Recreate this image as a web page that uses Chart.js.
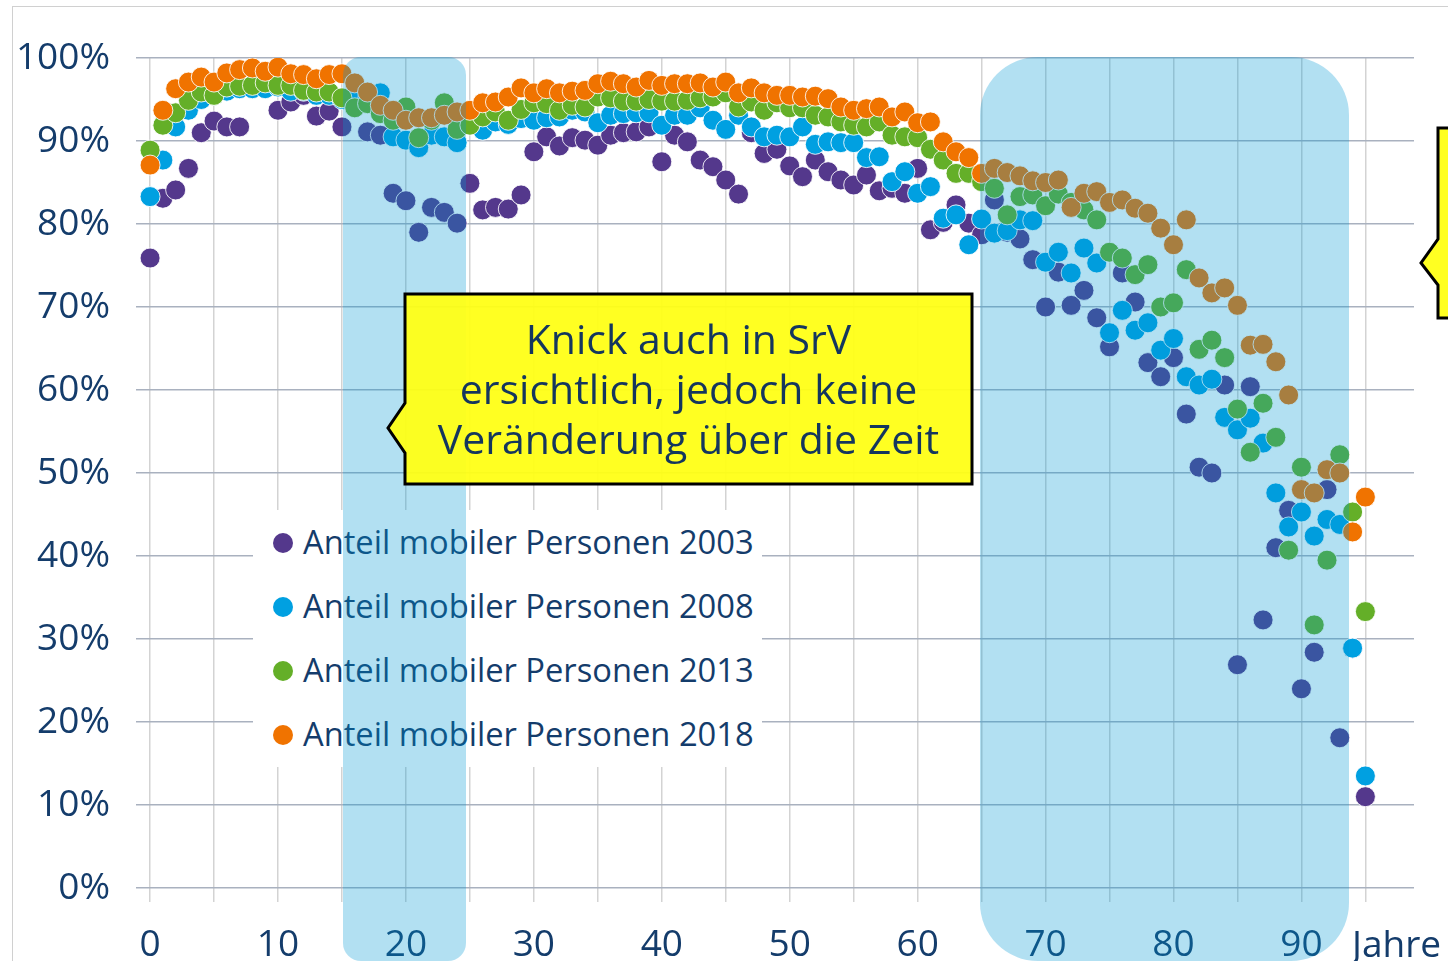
<!DOCTYPE html>
<html>
<head>
<meta charset="utf-8">
<script src="https://cdn.jsdelivr.net/npm/chart.js@4/dist/chart.umd.min.js"></script>
<style>
html,body{margin:0;padding:0;background:#fff;}
#wrap{position:relative;width:1448px;height:961px;overflow:hidden;font-family:'Open Sans',sans-serif;}
#frame{position:absolute;left:12px;top:6px;right:-2px;bottom:-2px;border-left:1px solid #d0d0d0;border-top:1px solid #d0d0d0;}
#chart{position:absolute;left:0;top:0;}
#legend{position:absolute;left:253px;top:510px;width:509px;height:257px;background:#fff;}
.item{position:absolute;left:20px;height:40px;line-height:40px;font-size:32.7px;color:#143c6b;white-space:nowrap;}
.item i{display:inline-block;width:20px;height:20px;border-radius:50%;vertical-align:middle;margin-right:10px;position:relative;top:-2px;}
.band{position:absolute;background:rgba(0,151,211,0.3);}
#shapes{position:absolute;left:0;top:0;}
.note{position:absolute;text-align:center;font-size:41px;line-height:50px;color:#14365e;}
#jahre{position:absolute;left:1352px;top:918px;font-size:37px;line-height:50px;color:#143c6b;}
</style>
</head>
<body>
<div id="wrap">
  <div id="frame"></div>
  <canvas id="chart" width="1448" height="961"></canvas>
  <div id="legend"></div>
  <div id="bands"></div>
  <svg id="shapes" width="1448" height="961">
    <polygon points="405,294 972,294 972,484 405,484 405,453 388,428 405,403" fill="rgba(255,255,20,0.94)" stroke="#000" stroke-width="3"/>
    <polygon points="1438,128 1470,128 1470,318 1438,318 1438,285 1421,263 1438,239" fill="rgba(255,255,20,0.94)" stroke="#000" stroke-width="3"/>
  </svg>
  <div class="note" style="left:405px;top:313px;width:567px;">Knick auch in SrV<br>ersichtlich, jedoch keine<br>Veränderung über die Zeit</div>
  <div id="jahre">Jahre</div>
</div>
<script>
const ages = [0,1,2,3,4,5,6,7,8,9,10,11,12,13,14,15,16,17,18,19,20,21,22,23,24,25,26,27,28,29,
  30,31,32,33,34,35,36,37,38,39,40,41,42,43,44,45,46,47,48,49,50,51,52,53,54,55,56,57,58,59,
  60,61,62,63,64,65,66,67,68,69,70,71,72,73,74,75,76,77,78,79,80,81,82,83,84,85,86,87,88,89,
  90,91,92,93,94,95];

// Anteil mobiler Personen in %, je Altersjahr
const mobil2003 = [75.9,83.1,84.1,86.7,91.0,92.4,91.7,91.7,96.6,96.9,93.7,94.7,95.5,93.0,93.6,91.7,94.0,91.1,90.7,83.7,
  82.8,79.0,82.0,81.4,80.1,84.9,81.7,82.0,81.8,83.5,88.7,90.5,89.4,90.4,90.1,89.5,90.7,91.0,91.1,91.7,
  87.5,90.7,89.9,87.7,86.9,85.3,83.6,91.0,88.5,89.0,87.0,85.7,87.7,86.3,85.3,84.7,85.9,84.0,84.3,83.7,
  86.7,79.3,80.2,82.3,80.1,78.7,82.9,79.0,78.2,75.7,70.0,74.2,70.2,72.0,68.7,65.2,74.1,70.6,63.3,61.6,
  63.9,57.1,50.7,50.0,60.6,26.9,60.4,32.3,41.0,45.5,24.0,28.4,48.0,18.1,28.9,11.0];
const mobil2008 = [83.3,87.7,91.7,93.7,95.0,95.5,96.0,96.3,96.3,96.3,96.5,96.0,96.0,95.5,95.5,95.0,95.3,95.0,95.8,90.5,
  90.1,89.2,90.7,90.5,89.8,92.0,91.3,92.3,92.0,92.7,92.5,92.8,92.9,93.7,93.5,92.2,93.1,93.3,93.4,93.4,
  91.9,93.1,93.1,94.0,92.5,91.4,93.1,91.7,90.5,90.7,90.5,91.7,89.6,89.9,89.8,89.8,88.0,88.1,85.1,86.3,
  83.7,84.5,80.7,81.1,77.5,80.6,78.9,79.2,80.5,80.4,75.4,76.6,74.1,77.1,75.3,66.9,69.6,67.2,68.1,64.8,
  66.2,61.6,60.6,61.3,56.7,55.2,56.6,53.6,47.6,43.5,45.3,42.4,44.4,43.8,28.9,13.5];
const mobil2013 = [88.9,91.9,93.4,94.9,95.9,95.5,96.5,96.6,96.7,97.0,96.7,96.7,96.1,95.9,95.9,95.2,94.0,94.5,93.3,92.5,
  94.1,90.4,92.5,94.6,91.4,91.9,92.9,93.5,92.5,93.8,94.6,94.5,93.7,94.3,94.1,95.3,95.2,94.8,94.8,95.0,
  94.8,94.8,94.9,95.2,95.3,95.8,94.1,94.7,93.7,94.6,94.0,94.0,93.1,92.9,92.3,91.9,91.7,92.3,90.7,90.5,
  90.4,89.0,87.7,86.1,86.1,85.1,84.3,81.1,83.3,83.5,82.2,83.6,82.6,81.7,80.5,76.6,75.9,73.9,75.1,70.0,
  70.5,74.5,64.9,66.0,63.9,57.7,52.5,58.4,54.3,40.7,50.7,31.7,39.5,52.2,45.3,33.3];
const mobil2018 = [87.1,93.7,96.3,97.1,97.7,97.1,98.2,98.6,98.8,98.4,98.9,98.1,98.0,97.5,98.0,98.1,97.0,95.9,94.3,93.7,
  92.5,92.8,92.8,93.1,93.5,93.7,94.6,94.7,95.3,96.4,95.8,96.3,95.8,96.0,96.1,96.9,97.2,96.9,96.5,97.3,
  96.7,96.9,96.9,97.0,96.5,97.1,95.8,96.4,95.8,95.5,95.5,95.3,95.4,95.1,94.1,93.7,93.9,94.1,92.9,93.5,
  92.2,92.3,89.9,88.7,88.0,86.1,86.7,86.2,85.8,85.2,85.0,85.3,82.0,83.7,83.9,82.6,82.9,81.9,81.3,79.5,
  77.5,80.5,73.5,71.7,72.3,70.2,65.4,65.5,63.4,59.4,48.0,47.6,50.4,50.0,42.9,47.1];

const seriesNames = ['Anteil mobiler Personen 2003','Anteil mobiler Personen 2008','Anteil mobiler Personen 2013','Anteil mobiler Personen 2018'];
const seriesColors = ['#54388c','#00a0e1','#64af28','#f07300'];
const seriesValues = [mobil2003, mobil2008, mobil2013, mobil2018];
// hervorgehobene Altersbereiche (Jahre)
const highlightRanges = [[15.1, 24.7], [64.9, 93.75]];
const highlightRadius = [18, 58];

const textColor = '#143c6b';
const tickFont = {family:"'Open Sans', sans-serif", size:37};

const datasets = seriesValues.map((vals, i) => ({
  label: seriesNames[i],
  data: ages.map((a, k) => ({x:a, y:vals[k]})),
  backgroundColor: seriesColors[i],
  borderColor: 'rgba(255,255,255,0.85)',
  borderWidth: 1,
  pointRadius: 10,
  order: seriesValues.length - i
}));

const chart = new Chart(document.getElementById('chart'), {
  type: 'scatter',
  data: {datasets},
  options: {
    responsive: false,
    animation: false,
    layout: {padding: {top:58, right:34, left:0, bottom:0}},
    plugins: {legend:{display:false}, tooltip:{enabled:false}},
    scales: {
      x: {
        type: 'linear', min: -1.1, max: 98.8,
        border: {display:false},
        grid: {color:'#d3d3d3', lineWidth:1.5, tickLength:14},
        ticks: {stepSize:5, includeBounds:false, autoSkip:false, maxRotation:0, padding:21,
          color:textColor, font:tickFont, callback: v => v % 10 === 0 ? v : ''},
        afterFit: s => { s.height = 73; }
      },
      y: {
        min: 0, max: 100,
        border: {display:false},
        grid: {color:'#a9b1bf', lineWidth:1.5, drawTicks:false},
        ticks: {stepSize:10, padding:26, color:textColor, font:tickFont, callback: v => v + '%'},
        afterFit: s => { s.width = 136; }
      }
    }
  }
});

// Legende
document.getElementById('legend').innerHTML = seriesNames.map((n, i) =>
  `<div class="item" style="top:${12 + i*64}px"><i style="background:${seriesColors[i]}"></i>${n}</div>`).join('');

// Markierte Altersbereiche
const xs = chart.scales.x;
document.getElementById('bands').innerHTML = highlightRanges.map((r, i) => {
  const l = xs.getPixelForValue(r[0]), rr = xs.getPixelForValue(r[1]);
  const top = chart.chartArea.top - 1;
  return `<div class="band" style="left:${l}px;top:${top}px;width:${rr-l}px;height:${961-top}px;border-radius:${highlightRadius[i]}px"></div>`;
}).join('');
</script>
</body>
</html>
